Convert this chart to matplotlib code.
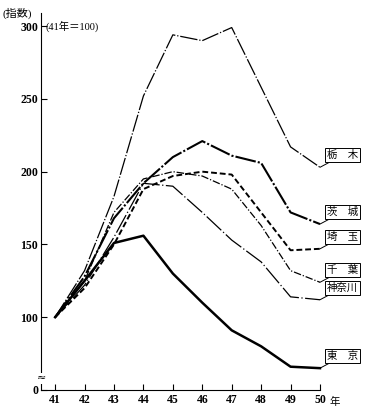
import matplotlib
matplotlib.use("Agg")
import matplotlib.pyplot as plt

plt.rcParams['font.family'] = ['Liberation Serif', 'Noto Sans CJK JP', 'DejaVu Sans']

# data (index, 41年 = 100)
years = [41, 42, 43, 44, 45, 46, 47, 48, 49, 50]
tochigi = [100, 132, 183, 252, 294, 290, 299, 258, 217, 203]
ibaraki = [100, 128, 168, 192, 210, 221, 211, 206, 172, 164]
saitama = [100, 120, 150, 188, 197, 200, 198, 172, 146, 147]
chiba = [100, 125, 172, 195, 200, 197, 188, 163, 132, 124]
kanagawa = [100, 122, 155, 192, 190, 172, 153, 138, 114, 112]
tokyo = [100, 125, 151, 156, 130, 110, 91, 80, 66, 65]

names = ['栃　木', '茨　城', '埼　玉', '千　葉', '神奈川', '東　京']
series = [tochigi, ibaraki, saitama, chiba, kanagawa, tokyo]
styles = [
    dict(lw=0.9, ls=(0, (14, 1.5, 1, 1.5))),
    dict(lw=1.5, ls=(0, (10, 1, 1, 1))),
    dict(lw=1.4, ls=(0, (3, 1.5))),
    dict(lw=0.9, ls=(0, (6, 1.5, 1, 1.5))),
    dict(lw=0.9, ls=(0, (16, 2, 1, 2))),
    dict(lw=1.8, ls='-'),
]

yticks = [50, 100, 150, 200, 250, 300]
ytick_labels = ['0', '100', '150', '200', '250', '300']

fig = plt.figure(figsize=(3.65, 4.09), dpi=100)
ax = fig.add_axes([41 / 365, 19 / 409, 279 / 365, 377 / 409])

for vals, st in zip(series, styles):
    ax.plot(years, vals, color='black', clip_on=False, **st)

# callout labels at the right end
for name, vals in zip(names, series):
    ax.annotate(name, xy=(years[-1], vals[-1]), xytext=(7, 12),
                textcoords='offset pixels', ha='left', va='center',
                fontsize=7.5,
                bbox=dict(boxstyle='square,pad=0.2', fc='white', ec='black', lw=0.7),
                arrowprops=dict(arrowstyle='-', lw=0.7, color='black',
                                shrinkA=0, shrinkB=0))

ax.set_xlim(40.52, 50)
ax.set_ylim(50, 309)
ax.spines['top'].set_visible(False)
ax.spines['right'].set_visible(False)
ax.set_xticks(years)
ax.set_xticklabels([str(y) for y in years], fontsize=8.5, fontweight='bold')
ax.set_yticks(yticks)
ax.set_yticklabels(ytick_labels, fontsize=8.5, fontweight='bold')
ax.tick_params(direction='in', length=4, width=0.8, pad=2)
ax.tick_params(axis='x', pad=3)

# unit after the last year
ax.annotate('年', xy=(50, 0), xycoords=('data', 'axes fraction'),
            xytext=(10, -12), textcoords='offset pixels',
            ha='left', va='center', fontsize=7.5, annotation_clip=False)

# axis break mark
ax.text(0, 58, '≈', transform=ax.get_yaxis_transform(), rotation=0,
        ha='center', va='center', fontsize=8, family='DejaVu Sans',
        bbox=dict(fc='white', ec='none', pad=0.2), clip_on=False)

fig.text(3 / 365, 1 - 13 / 409, '(指数)', ha='left', va='center', fontsize=8)
ax.text(0.015, 300, '(41年＝100)', transform=ax.get_yaxis_transform(),
        ha='left', va='center', fontsize=7.5)

fig.savefig('out.png', dpi=100, facecolor='white')
